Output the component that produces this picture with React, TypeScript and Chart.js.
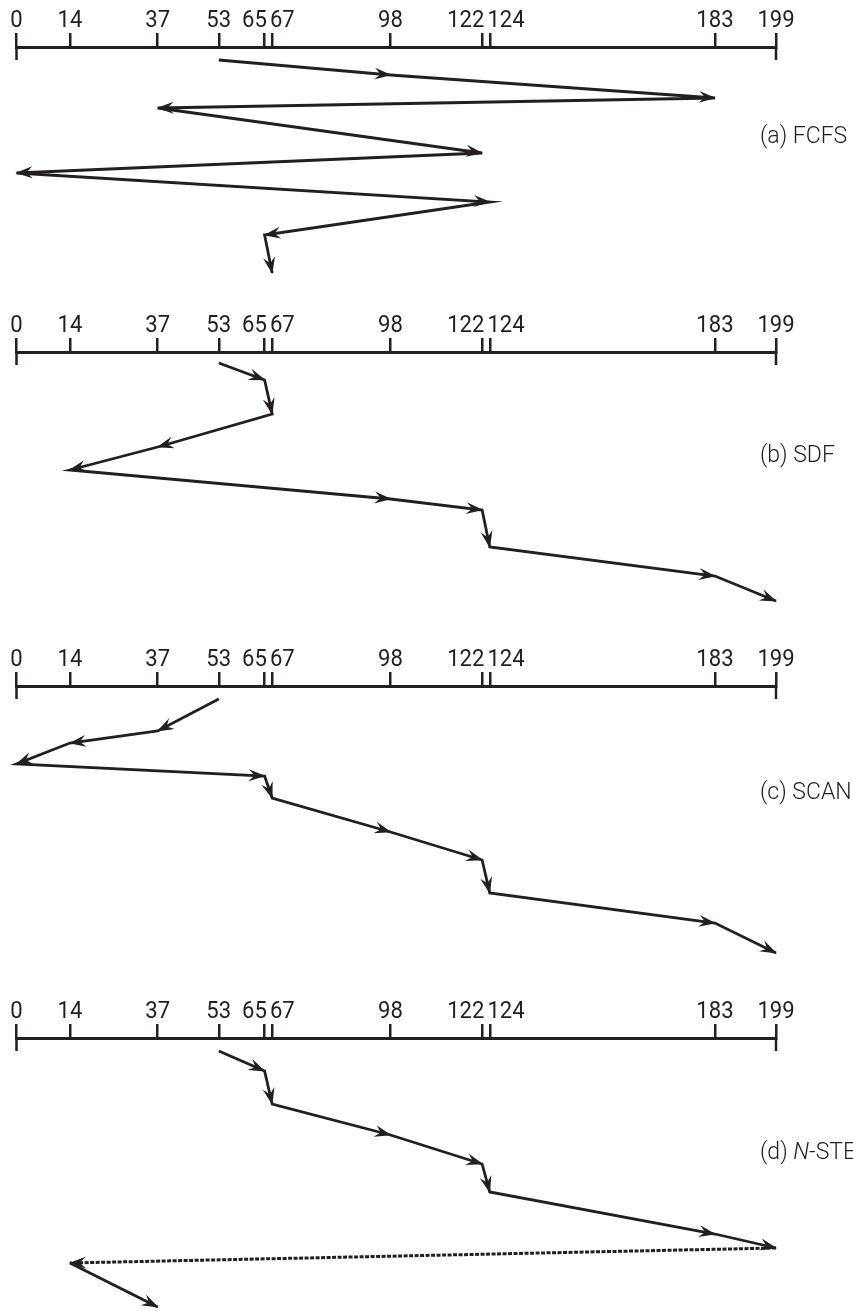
import { useEffect, useRef } from "react";
import { Chart, registerables } from "chart.js";

Chart.register(...registerables);

// Track numbers shown on each axis
const trackTicks = [0, 14, 37, 53, 65, 67, 98, 122, 124, 183, 199];

// (a) FCFS: visited track and depth (time step) below the axis
const fcfsTracks = [53, 98, 183, 37, 122, 0, 124, 65, 67];
const fcfsDepth = [13, 28, 51, 61, 106, 126, 155, 188, 226];

// (b) SDF
const sdfTracks = [53, 65, 67, 37, 14, 98, 122, 124, 183, 199];
const sdfDepth = [11, 28, 62, 95, 118, 147, 158, 195, 224, 249];

// (c) SCAN
const scanTracks = [53, 37, 14, 0, 65, 67, 98, 122, 124, 183, 199];
const scanDepth = [13, 45, 57, 78, 90, 112, 146, 174, 207, 237, 267];

// (d) N-STEP
const nstepTracks = [53, 65, 67, 98, 122, 124, 183, 199, 14, 37];
const nstepDepth = [13, 33, 66, 97, 126, 154, 196, 210, 225, 269];

const INK = "#231f20";
const TICK_FONT = "400 24px Roboto, 'Liberation Sans', sans-serif";
const LABEL_FONT = "300 23px Roboto, 'Liberation Sans', sans-serif";
const LABEL_FONT_IT = "italic 300 23px Roboto, 'Liberation Sans', sans-serif";
const TEXT_SQUEEZE = 0.92;

type Part = { text: string; italic?: boolean };

const panels = [
  { key: "a", top: 0, height: 300, axisY: 47, labelY: 137, tracks: fcfsTracks, depth: fcfsDepth, label: [{ text: "(a) FCFS" }] as Part[], dashedFrom: -1 },
  { key: "b", top: 300, height: 320, axisY: 52, labelY: 156, tracks: sdfTracks, depth: sdfDepth, label: [{ text: "(b) SDF" }] as Part[], dashedFrom: -1 },
  { key: "c", top: 620, height: 340, axisY: 66, labelY: 173, tracks: scanTracks, depth: scanDepth, label: [{ text: "(c) SCAN" }] as Part[], dashedFrom: -1 },
  {
    key: "d", top: 960, height: 351, axisY: 78, labelY: 193, tracks: nstepTracks, depth: nstepDepth,
    label: [{ text: "(d) " }, { text: "N", italic: true }, { text: "-STEP" }] as Part[], dashedFrom: 7,
  },
];

const diskOverlay = {
  id: "diskOverlay",
  afterDraw(chart: any, _args: any, opts: any) {
    const ctx: CanvasRenderingContext2D = chart.ctx;
    const xs = chart.scales.x;
    const axisY = chart.chartArea.top;
    ctx.save();
    ctx.strokeStyle = INK;
    ctx.fillStyle = INK;

    // end ticks extending below the axis
    ctx.lineWidth = 2.5;
    [xs.min, xs.max].forEach((v: number) => {
      const x = xs.getPixelForValue(v);
      ctx.beginPath();
      ctx.moveTo(x, axisY);
      ctx.lineTo(x, axisY + 13);
      ctx.stroke();
    });

    // tick labels, nudged apart where they would collide
    ctx.font = TICK_FONT;
    ctx.textBaseline = "alphabetic";
    ctx.textAlign = "left";
    const items = xs.ticks.map((t: any) => {
      const text = String(t.value);
      const w = ctx.measureText(text).width * TEXT_SQUEEZE;
      return { text, w, cx: xs.getPixelForValue(t.value) };
    });
    const gap = 3;
    let groups = items.map((it: any) => ({ members: [it] } as any));
    const layoutGroup = (g: any) => {
      const total = g.members.reduce((s: number, m: any) => s + m.w, 0) + gap * (g.members.length - 1);
      const center = g.members.reduce((s: number, m: any) => s + m.cx, 0) / g.members.length;
      g.left = center - total / 2;
      g.right = center + total / 2;
    };
    groups.forEach(layoutGroup);
    let merged = true;
    while (merged) {
      merged = false;
      for (let i = 1; i < groups.length; i++) {
        if (groups[i].left < groups[i - 1].right + gap) {
          groups[i - 1].members = groups[i - 1].members.concat(groups[i].members);
          layoutGroup(groups[i - 1]);
          groups.splice(i, 1);
          merged = true;
          break;
        }
      }
    }
    groups.forEach((g: any) => {
      let x = g.left;
      g.members.forEach((m: any) => {
        ctx.save();
        ctx.translate(x, axisY - 20);
        ctx.scale(TEXT_SQUEEZE, 1);
        ctx.fillText(m.text, 0, 0);
        ctx.restore();
        x += m.w + gap;
      });
    });

    // arrowheads at every visited track
    const meta = chart.getDatasetMeta(0);
    const L = 16;
    const W = 6;
    for (let i = 1; i < meta.data.length; i++) {
      const p0 = meta.data[i - 1];
      const p1 = meta.data[i];
      const ang = Math.atan2(p1.y - p0.y, p1.x - p0.x);
      ctx.save();
      ctx.translate(p1.x, p1.y);
      ctx.rotate(ang);
      ctx.beginPath();
      ctx.moveTo(1, 0);
      ctx.lineTo(-L, W);
      ctx.lineTo(-L * 0.62, 0);
      ctx.lineTo(-L, -W);
      ctx.closePath();
      ctx.fill();
      ctx.restore();
    }

    // panel caption
    let lx = 760;
    ctx.textBaseline = "middle";
    (opts.label as Part[]).forEach((p) => {
      ctx.font = p.italic ? LABEL_FONT_IT : LABEL_FONT;
      ctx.fillText(p.text, lx, opts.labelY);
      lx += ctx.measureText(p.text).width;
    });
    ctx.restore();
  },
};

function Panel({ cfg }: { cfg: (typeof panels)[number] }) {
  const ref = useRef<HTMLCanvasElement | null>(null);
  useEffect(() => {
    if (!ref.current) return;
    const data = cfg.tracks.map((t, i) => ({ x: t, y: cfg.depth[i] }));
    const chart = new Chart(ref.current, {
      type: "scatter",
      data: {
        datasets: [
          {
            data,
            showLine: true,
            borderColor: INK,
            backgroundColor: INK,
            borderWidth: 2.8,
            pointRadius: 0,
            pointHoverRadius: 0,
            clip: false as any,
            segment: {
              borderDash: (c: any) => (c.p0DataIndex === cfg.dashedFrom ? [4, 1.5] : undefined),
              borderWidth: (c: any) => (c.p0DataIndex === cfg.dashedFrom ? 3 : 2.8),
            },
          } as any,
        ],
      },
      options: {
        animation: false,
        responsive: false,
        events: [],
        layout: { padding: { left: 16.5, right: 77, top: cfg.axisY - 14, bottom: 0 } },
        plugins: {
          legend: { display: false },
          tooltip: { enabled: false },
          diskOverlay: { label: cfg.label, labelY: cfg.labelY },
        } as any,
        scales: {
          x: {
            type: "linear",
            position: "top",
            min: 0,
            max: 199,
            afterBuildTicks: (s: any) => {
              s.ticks = trackTicks.map((v) => ({ value: v }));
            },
            ticks: { display: false },
            grid: { drawOnChartArea: false, drawTicks: true, tickLength: 14, color: INK, lineWidth: 2.5 },
            border: { display: true, color: INK, width: 3 },
          },
          y: {
            type: "linear",
            display: false,
            reverse: true,
            min: 0,
            max: cfg.height - cfg.axisY,
          },
        },
      },
      plugins: [diskOverlay],
    });
    return () => chart.destroy();
  }, [cfg]);
  return (
    <canvas
      ref={ref}
      width={853}
      height={cfg.height}
      style={{ position: "absolute", left: 0, top: cfg.top, width: 853, height: cfg.height }}
    />
  );
}

export default function App() {
  return (
    <div style={{ position: "absolute", left: 0, top: 0, width: 853, height: 1311, background: "#fff", overflow: "hidden" }}>
      {panels.map((p) => (
        <Panel key={p.key} cfg={p} />
      ))}
    </div>
  );
}
